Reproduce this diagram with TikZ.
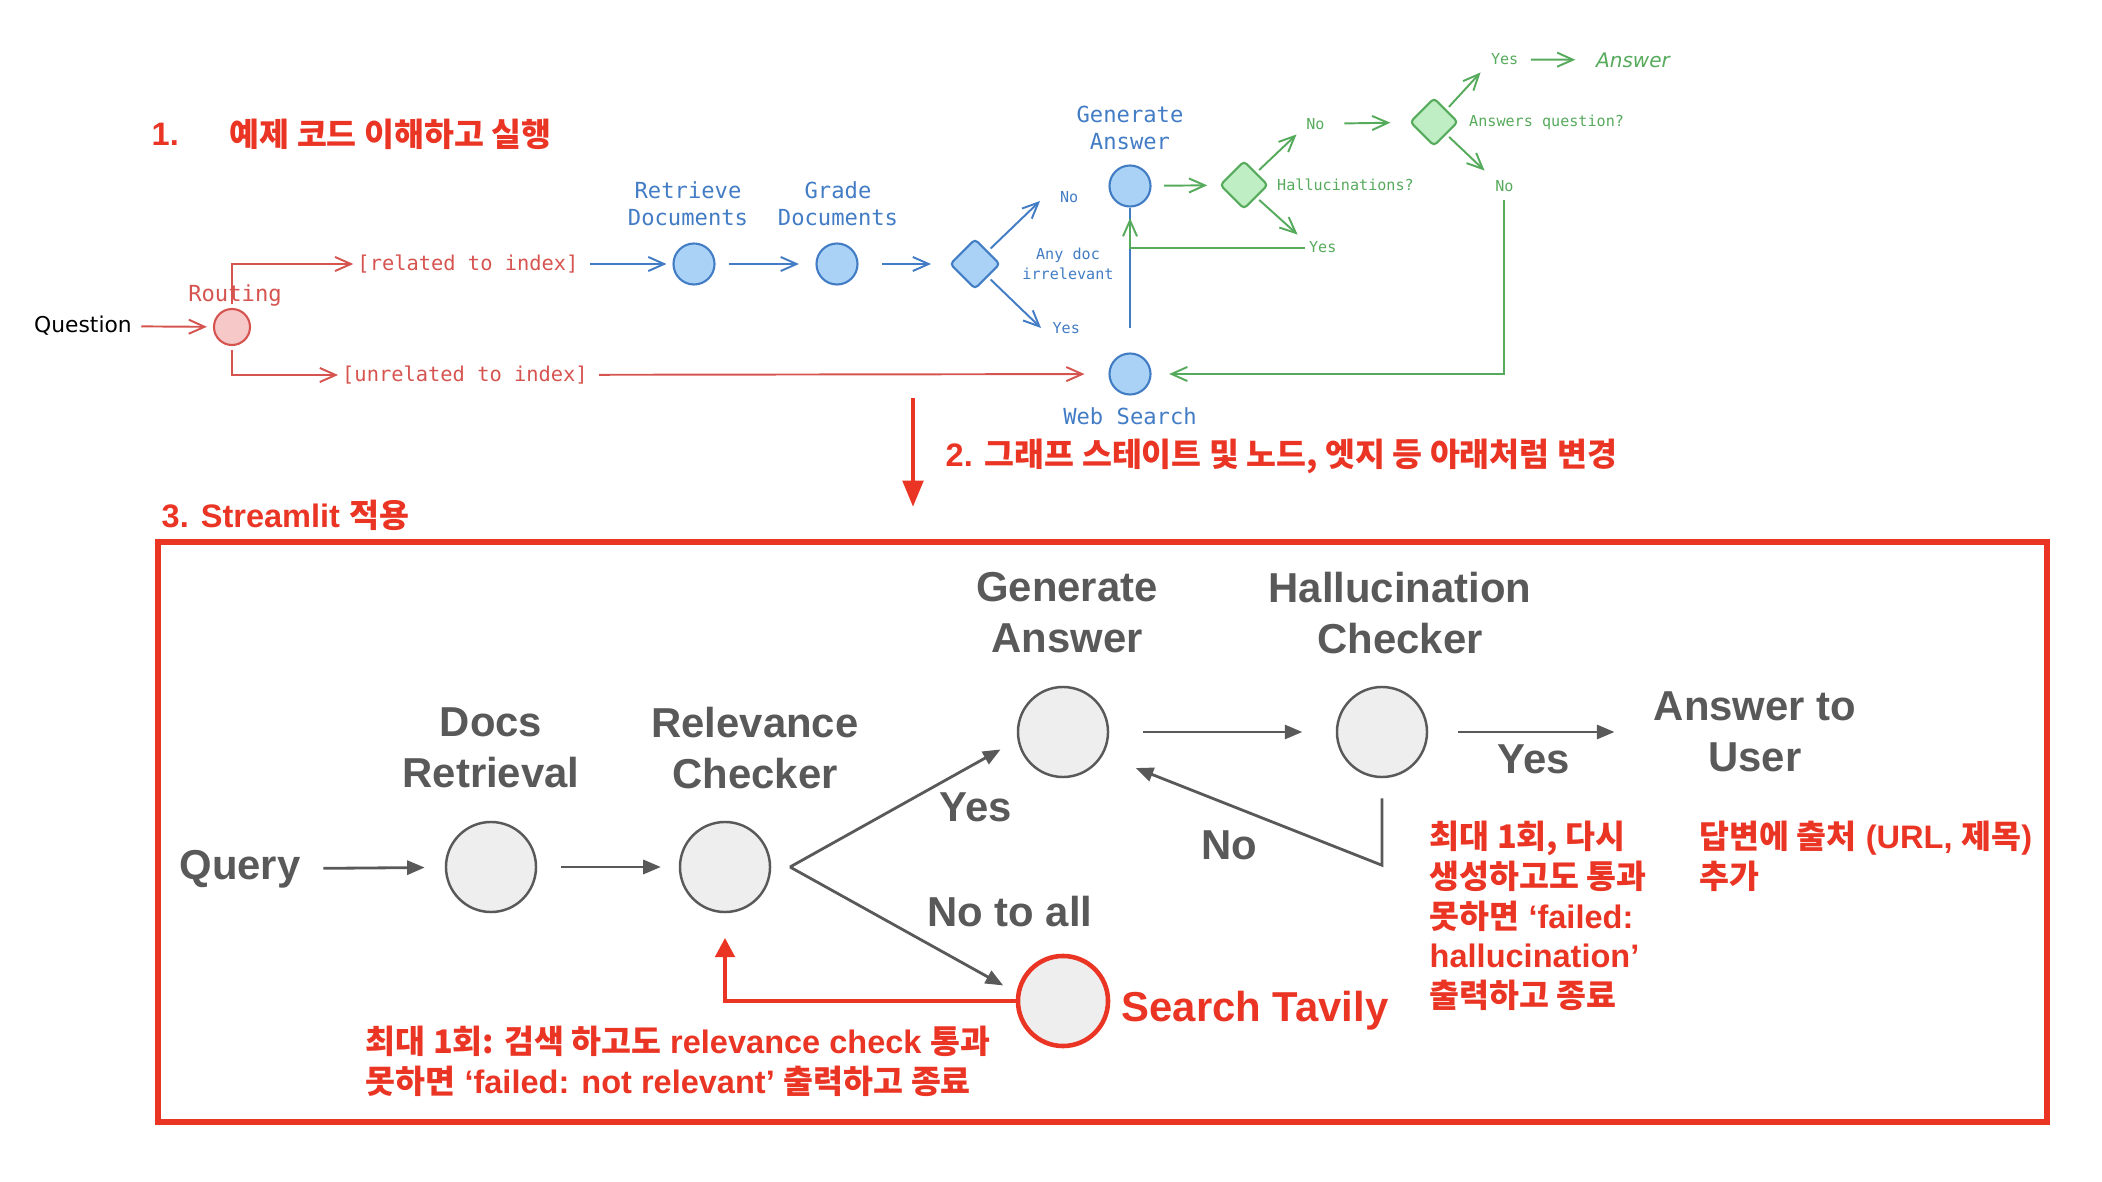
\documentclass[tikz,border=0pt]{standalone}
\usepackage{fontspec}
\setmainfont{Liberation Sans}
\newfontfamily\krfont{Noto Sans CJK KR}
\newfontfamily\codefont{DejaVu Sans Mono}
\newfontfamily\handfont{DejaVu Sans}
\usetikzlibrary{arrows.meta,positioning,calc,shapes.geometric}
\definecolor{topRed}{RGB}{214,84,80}
\definecolor{topPink}{RGB}{246,200,200}
\definecolor{topBlue}{RGB}{66,124,196}
\definecolor{topSky}{RGB}{170,210,246}
\definecolor{topGreen}{RGB}{86,170,92}
\definecolor{topMint}{RGB}{192,238,196}
\definecolor{noteRed}{RGB}{234,52,36}
\definecolor{nodeGray}{RGB}{89,89,89}
\definecolor{nodeFill}{RGB}{238,238,238}
\newcommand{\kr}[1]{{\krfont #1}}

\begin{document}
\begin{tikzpicture}[x=0.01cm,y=-0.01cm,
    code/.style={font=\codefont\fontsize{6.3}{7.6}\selectfont,align=center,inner sep=1pt},
    tiny/.style={font=\codefont\fontsize{4.3}{5.6}\selectfont,align=center,inner sep=1pt},
    barb/.style={-{Straight Barb[length=4.5pt,width=4pt]},line width=0.55pt},
    dot/.style={circle,draw,line width=0.6pt,minimum size=0.41cm,inner sep=0pt},
    gem/.style={diamond,draw,line width=0.6pt,minimum size=0.48cm,inner sep=0pt,rounded corners=1pt},
    lbl/.style={font=\bfseries\fontsize{11.9}{14.5}\selectfont,text=nodeGray,align=center,inner sep=2pt},
    state/.style={circle,draw=nodeGray,fill=nodeFill,line width=0.7pt,minimum size=0.9cm,inner sep=0pt},
    flow/.style={-{Triangle[length=5pt,width=4pt]},nodeGray,line width=0.8pt},
    note/.style={font=\bfseries\fontsize{9.25}{11.3}\selectfont,text=noteRed,align=left,inner sep=0pt}]
  \useasboundingbox (0,0) rectangle (2102,1182);

  % 1. example graph
  \node[note,anchor=west] (title1) at (151,134) {1.};
  \node[note,anchor=west] (title1b) at (229,134) {\kr{예제 코드 이해하고 실행}};

  \node[font=\handfont\fontsize{6.2}{7}\selectfont,inner sep=1pt] (question) at (83,326) {Question};
  \node[dot,draw=topRed,fill=topPink,minimum size=0.36cm] (route) at (232,327) {};
  \node[code,text=topRed] (routelbl) at (235,295) {Routing};
  \node[code,text=topRed,font=\codefont\fontsize{5.8}{7}\selectfont] (rel) at (468,264) {[related to index]};
  \node[code,text=topRed,font=\codefont\fontsize{5.8}{7}\selectfont] (unrel) at (465,375) {[unrelated to index]};

  \node[dot,draw=topBlue,fill=topSky] (retr) at (694,264) {};
  \node[code,text=topBlue] (retrlbl) at (688,204) {Retrieve\\Documents};
  \node[dot,draw=topBlue,fill=topSky] (grade) at (837,264) {};
  \node[code,text=topBlue] (gradelbl) at (838,204) {Grade\\Documents};
  \node[gem,draw=topBlue,fill=topSky,minimum size=0.5cm] (anydoc) at (975,264) {};
  \node[tiny,text=topBlue] (anylbl) at (1068,264) {Any doc\\irrelevant};
  \node[dot,draw=topBlue,fill=topSky] (gen) at (1130,186) {};
  \node[code,text=topBlue] (genlbl) at (1130,128) {Generate\\Answer};
  \node[dot,draw=topBlue,fill=topSky] (web) at (1130,374) {};
  \node[code,text=topBlue] (weblbl) at (1130,416) {Web Search};

  \node[gem,draw=topGreen,fill=topMint] (hall) at (1244,185) {};
  \node[tiny,text=topGreen,anchor=west] (halllbl) at (1273,185) {Hallucinations?};
  \node[gem,draw=topGreen,fill=topMint] (ansq) at (1434,122) {};
  \node[tiny,text=topGreen,anchor=west] (ansqlbl) at (1465,122) {Answers question?};

  % routing
  \draw[barb,topRed,shorten <=1.5pt,shorten >=1.7pt] (question) -- (route);
  \draw[barb,topRed,shorten <=1pt] (route.north) |- (rel.west);
  \draw[barb,topRed,shorten <=1pt] (route.south) |- (unrel.west);
  \draw[barb,topRed,shorten <=2pt,shorten >=6.8pt] (unrel) -- (web);

  % retrieval and grading
  \draw[barb,topBlue,shorten <=2pt,shorten >=1.7pt] (rel) -- (retr);
  \draw[barb,topBlue,shorten <=3.8pt,shorten >=4.7pt] (retr) -- (grade);
  \draw[barb,topBlue,shorten <=6.7pt,shorten >=5.1pt] (grade) -- (anydoc);
  \draw[barb,topBlue,shorten <=1pt] (anydoc.north east) -- ++(52,-50)
    node[tiny,text=topBlue,right=4.4pt,yshift=1pt] (no1) {No};
  \draw[barb,topBlue,shorten <=1pt] (anydoc.south east) -- ++(53,51)
    node[tiny,text=topBlue,right=2pt] (yes1) {Yes};
  \draw[topBlue,line width=0.55pt,shorten <=7pt] (web.north) -- (gen.south);

  % grading the answer
  \draw[barb,topGreen,shorten <=3.6pt,shorten >=3.4pt] (gen) -- (hall);
  \draw[barb,topGreen,shorten <=1pt] (hall.north east) -- ++(40,-38)
    node[tiny,text=topGreen,right=1.5pt,yshift=3pt] (no2) {No};
  \draw[barb,topGreen,shorten <=1pt] (hall.south east) -- ++(41,37)
    node[tiny,text=topGreen,right=2pt,yshift=-3.7pt] (yes2) {Yes};
  \draw[barb,topGreen,shorten >=3pt] (yes2.west) -| (gen.south);
  \draw[barb,topGreen,shorten <=4.4pt,shorten >=5.4pt] (no2) -- (ansq);
  \draw[barb,topGreen,shorten <=1pt] (ansq.north east) -- ++(34,-37)
    node[tiny,text=topGreen,right=1.7pt,yshift=3.7pt] (yes3) {Yes};
  \draw[barb,topGreen,shorten <=1pt] (ansq.south east) -- ++(38,36)
    node[tiny,text=topGreen,right=1.8pt,yshift=-4.5pt] (no3) {No};
  \node[font=\handfont\itshape\fontsize{5.7}{7}\selectfont,text=topGreen,inner sep=1pt] (answer) at (1633,60) {Answer};
  \draw[barb,topGreen,shorten <=2.3pt,shorten >=4.7pt] (yes3) -- (answer);
  \draw[barb,topGreen,shorten <=1pt,shorten >=5pt] (no3.south) |- (web.east);

  % 2. change
  \coordinate (downA) at (913,398);
  \coordinate (downB) at (913,507);
  \draw[-{Triangle[length=7.5pt,width=5.7pt]},noteRed,line width=1.4pt] (downA) -- (downB);
  \node[note,anchor=west] (title2) at (945,456) {2. \kr{그래프 스테이트 및 노드, 엣지 등 아래처럼 변경}};

  % 3. streamlit graph
  \node[note,anchor=west] (title3) at (161,515) {3. Streamlit \kr{적용}};
  \draw[noteRed,line width=1.6pt] (158,542) rectangle (2047,1122);

  \node[lbl] (query) at (240,869) {Query};
  \node[state] (docs) at (491,867) {};
  \node[lbl] (docslbl) at (491,748) {Docs\\Retrieval};
  \node[state] (relev) at (725,867) {};
  \node[lbl] (relevlbl) at (755,748) {Relevance\\Checker};
  \node[state] (gen2) at (1063,732) {};
  \node[lbl] (gen2lbl) at (1067,613) {Generate\\Answer};
  \node[state] (hall2) at (1382,732) {};
  \node[lbl] (hall2lbl) at (1400,613) {Hallucination\\Checker};
  \node[lbl] (user) at (1755,732) {Answer to\\User};
  \node[state,draw=noteRed,line width=1.3pt] (tavily) at (1063,1001) {};
  \node[lbl,text=noteRed,anchor=west] (tavilylbl) at (1114,1011) {Search Tavily};
  \coordinate (fork) at (790,867);

  \draw[flow,shorten <=4.3pt,shorten >=5.7pt] (query) -- (docs);
  \draw[flow,shorten <=6.8pt,shorten >=5.1pt] (docs) -- (relev);
  \draw[flow,shorten >=5.5pt] (fork) -- (gen2.190);
  \draw[flow,shorten >=4.3pt] (fork) -- (tavily.170);
  \draw[flow,shorten <=9.5pt,shorten >=9.5pt] (gen2) -- (hall2);
  \draw[flow,shorten <=8.5pt,shorten >=9pt] (hall2) -- (user);
  \draw[flow,shorten <=5.7pt,shorten >=10pt] (hall2.south) -- ++(0,87) -- (gen2.-30);
  \draw[-{Triangle[length=5.5pt,width=5.5pt]},noteRed,line width=1.2pt,shorten >=7pt] (tavily.west) -| (relev.south);

  \node[lbl] (yes4) at (976,807) {Yes};
  \node[lbl] (noall) at (1010,912) {No to all};
  \node[lbl] (yes5) at (1534,759) {Yes};
  \node[lbl] (no4) at (1229,845) {No};

  % notes
  \node[note,anchor=west] (note1) at (365,1061)
    {\kr{최대 1회: 검색 하고도} relevance check \kr{통과}\\\kr{못하면} ‘failed: not relevant’ \kr{출력하고 종료}};
  \node[note,anchor=west] (note2) at (1429,916)
    {\kr{최대 1회, 다시}\\\kr{생성하고도 통과}\\\kr{못하면} ‘failed:\\hallucination’\\\kr{출력하고 종료}};
  \node[note,anchor=west] (note3) at (1699,856) {\kr{답변에 출처} (URL, \kr{제목})\\\kr{추가}};
\end{tikzpicture}
\end{document}
